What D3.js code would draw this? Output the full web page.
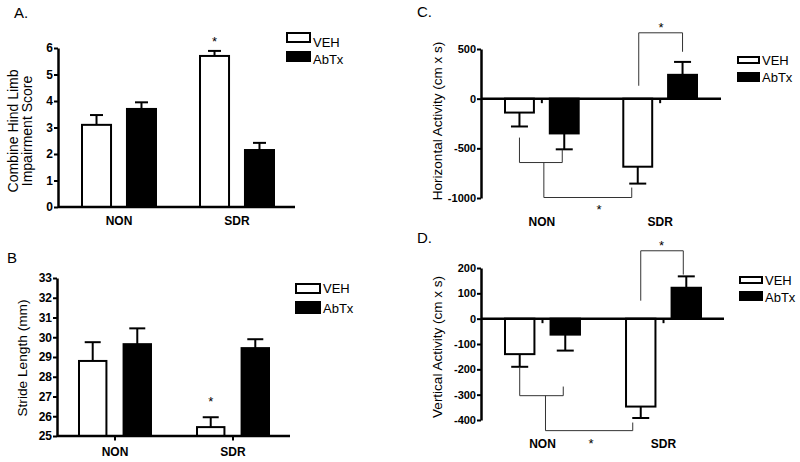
<!DOCTYPE html>
<html><head><meta charset="utf-8">
<script src="https://cdn.jsdelivr.net/npm/d3@7"></script>
<style>
body{margin:0;background:#fff}
text{font-family:"Liberation Sans",Arial,Helvetica,sans-serif;fill:#000}
</style>
</head><body>
<svg id="c" width="800" height="462"></svg>
<script>
// ---------------- data ----------------
const categories = ["NON", "SDR"];
const series = ["VEH", "AbTx"];

// A. Combine Hind Limb Impairment Score
const impairVEH = [3.1, 5.7];
const impairVEHErr = [0.37, 0.19];
const impairAbTx = [3.7, 2.15];
const impairAbTxErr = [0.25, 0.27];
const ticksA = [0, 1, 2, 3, 4, 5, 6];

// B. Stride Length (mm)
const strideVEH = [28.8, 25.45];
const strideVEHErr = [0.95, 0.5];
const strideAbTx = [29.65, 29.45];
const strideAbTxErr = [0.8, 0.45];
const ticksB = [25, 26, 27, 28, 29, 30, 31, 32, 33];

// C. Horizontal Activity (cm x s)
const horizVEH = [-140, -685];
const horizVEHErr = [140, 170];
const horizAbTx = [-350, 240];
const horizAbTxErr = [160, 130];
const ticksC = [-1000, -500, 0, 500];

// D. Vertical Activity (cm x s)
const vertVEH = [-140, -347];
const vertVEHErr = [50, 45];
const vertAbTx = [-63, 122];
const vertAbTxErr = [63, 45];
const ticksD = [-400, -300, -200, -100, 0, 100, 200];

// ---------------- drawing ----------------
const svg = d3.select("#c");
const FILL = {VEH: "#fff", AbTx: "#000"};

function panel(cfg) {
  const g = svg.append("g");
  const y = d3.scaleLinear().domain(cfg.domain).range(cfg.yRange);
  const x0 = d3.scaleBand().domain(categories).range(cfg.band).paddingInner(cfg.padOuterBand).paddingOuter(0);
  const x1 = d3.scaleBand().domain(series).range([0, x0.bandwidth()]).paddingInner(cfg.padInner).paddingOuter(0);
  const base = cfg.base;
  const cx = (c, s) => x0(c) + x1(s) + x1.bandwidth() / 2;

  const rows = [];
  categories.forEach((c, i) => series.forEach((s, j) => {
    rows.push({c, s, v: cfg.vals[j][i], e: cfg.errs[j][i]});
  }));

  // bars
  g.selectAll("rect.bar").data(rows).join("rect")
    .attr("x", d => x0(d.c) + x1(d.s) + 1)
    .attr("width", x1.bandwidth() - 2)
    .attr("y", d => Math.min(y(d.v), y(base)))
    .attr("height", d => Math.abs(y(d.v) - y(base)))
    .attr("fill", d => FILL[d.s])
    .attr("stroke", "#000").attr("stroke-width", 2);

  // error bars
  rows.forEach(d => {
    const sgn = d.v >= base ? 1 : -1;
    const xc = cx(d.c, d.s);
    const ye = y(d.v + sgn * d.e);
    g.append("line").attr("x1", xc).attr("x2", xc).attr("y1", y(d.v)).attr("y2", ye)
      .attr("stroke", "#000").attr("stroke-width", 2);
    g.append("line").attr("x1", xc - cfg.cap / 2).attr("x2", xc + cfg.cap / 2).attr("y1", ye).attr("y2", ye)
      .attr("stroke", "#000").attr("stroke-width", 2);
  });

  // y axis
  const ax = g.append("g").attr("transform", `translate(${cfg.axisX},0)`)
    .call(d3.axisLeft(y).tickValues(cfg.ticks).tickFormat(d => String(d))
      .tickSize(4).tickSizeOuter(0).tickPadding(1));
  ax.select(".domain").attr("stroke-width", 2.5);
  ax.selectAll(".tick line").attr("stroke-width", 2);
  ax.selectAll(".tick text").style("font-size", cfg.tickFont + "px").style("font-weight", "bold")
    .style("font-family", '"Liberation Sans",Arial,sans-serif');

  // x axis line at base
  g.append("line").attr("x1", cfg.axisX).attr("x2", cfg.xEnd)
    .attr("y1", y(base)).attr("y2", y(base)).attr("stroke", "#000").attr("stroke-width", 2.5);
  if (cfg.xTicks) {
    categories.forEach(c => {
      const xc = x0(c) + x0.bandwidth() / 2;
      g.append("line").attr("x1", xc).attr("x2", xc).attr("y1", y(base)).attr("y2", y(base) + 4.5)
        .attr("stroke", "#000").attr("stroke-width", 2);
    });
  }
  // category labels
  categories.forEach(c => {
    g.append("text").attr("x", x0(c) + x0.bandwidth() / 2 + (cfg.catDx || 0)).attr("y", cfg.catY)
      .attr("text-anchor", "middle").style("font-size", "12px").style("font-weight", "bold").text(c);
  });

  // y label
  cfg.yLabel.forEach((t, i) => {
    g.append("text").attr("transform", `translate(${cfg.ylx[i]},${cfg.yly}) rotate(-90)`)
      .attr("text-anchor", "middle").style("font-size", cfg.ylFont + "px").text(t);
  });

  // title
  g.append("text").attr("x", cfg.tx).attr("y", cfg.ty).style("font-size", "15px").text(cfg.title);

  // legend
  series.forEach((s, j) => {
    const L = cfg.legend;
    const by = L.y[j];
    g.append("rect").attr("x", L.x + 1).attr("y", by + 1).attr("width", L.w - 2).attr("height", L.h[j] - 2)
      .attr("fill", FILL[s]).attr("stroke", "#000").attr("stroke-width", 2);
    g.append("text").attr("x", L.x + L.w + 2).attr("y", L.ty[j]).style("font-size", "13px").text(s);
  });

  return {g, y, x0, x1, cx};
}

function star(g, x, yy) {
  g.append("text").attr("x", x).attr("y", yy).attr("text-anchor", "middle")
    .style("font-size", "13px").text("*");
}
function bracket(g, pts) {
  g.append("path").attr("d", d3.line()(pts)).attr("fill", "none")
    .attr("stroke", "#333").attr("stroke-width", 1);
}

// Panel A
const pA = panel({
  title: "A.", tx: 14, ty: 18,
  domain: [0, 6], yRange: [207, 48], ticks: ticksA, base: 0,
  band: [81, 275], padOuterBand: 0.356, padInner: 0.31,
  vals: [impairVEH, impairAbTx], errs: [impairVEHErr, impairAbTxErr], cap: 13,
  axisX: 58, xEnd: 295, xTicks: false, catY: 225, tickFont: 12,
  yLabel: ["Combine Hind Limb", "Impairment Score"], ylx: [18, 32], yly: 131, ylFont: 14,
  legend: {x: 286, w: 25, y: [32, 51], h: [11, 11], ty: [47, 64]}
});
star(pA.g, pA.cx("SDR", "VEH"), pA.y(5.7 + 0.19) - 5);

// Panel B
const pB = panel({
  title: "B", tx: 7, ty: 263,
  domain: [25, 33], yRange: [436, 278], ticks: ticksB, base: 25,
  band: [78, 270], padOuterBand: 0.373, padInner: 0.34,
  vals: [strideVEH, strideAbTx], errs: [strideVEHErr, strideAbTxErr], cap: 16,
  axisX: 57, xEnd: 290, xTicks: true, catY: 456, tickFont: 12,
  yLabel: ["Stride Length (mm)"], ylx: [27], yly: 358, ylFont: 13.7,
  legend: {x: 295, w: 26, y: [283, 301], h: [11, 13], ty: [293, 313]}
});
star(pB.g, pB.cx("SDR", "VEH"), pB.y(25.45 + 0.5) - 11);

// Panel C
const pC = panel({
  title: "C.", tx: 417, ty: 17,
  domain: [-1000, 500], yRange: [198, 49], ticks: ticksC, base: 0,
  band: [504, 698], padOuterBand: 0.36, padInner: 0.31,
  vals: [horizVEH, horizAbTx], errs: [horizVEHErr, horizAbTxErr], cap: 17,
  axisX: 481, xEnd: 721, xTicks: true, catY: 226, tickFont: 11,
  yLabel: ["Horizontal Activity (cm x s)"], ylx: [442], yly: 121, ylFont: 13.5,
  legend: {x: 737, w: 23, y: [56, 72], h: [8, 10], ty: [65, 82]}
});
{
  const {g, y, cx} = pC;
  const xv = cx("SDR", "VEH"), xa = cx("SDR", "AbTx");
  bracket(g, [[xv + 1, y(130)], [xv + 1, y(663)], [xa, y(663)], [xa, y(472)]]);
  star(g, (xv + xa) / 2 + 1, y(663) - 1);
  const nv = cx("NON", "VEH"), na = cx("NON", "AbTx");
  bracket(g, [[nv, y(-392)], [nv, y(-643)], [na - 2, y(-643)], [na - 2, y(-513)]]);
  const mid = (nv + na) / 2 + 2;
  bracket(g, [[mid, y(-643)], [mid, y(-995)], [xv - 6, y(-995)], [xv - 6, y(-895)]]);
  star(g, 599, y(-995) + 16);
}

// Panel D
const pD = panel({
  title: "D.", tx: 417, ty: 243,
  domain: [-400, 200], yRange: [420, 268], ticks: ticksD, base: 0,
  band: [504, 702], padOuterBand: 0.364, padInner: 0.31,
  vals: [vertVEH, vertAbTx], errs: [vertVEHErr, vertAbTxErr], cap: 17,
  axisX: 481, xEnd: 724, xTicks: true, catY: 448, tickFont: 11,
  yLabel: ["Vertical Activity (cm x s)"], ylx: [442], yly: 347, ylFont: 13.5,
  legend: {x: 739, w: 24, y: [276, 291], h: [8, 10], ty: [285, 302]}
});
{
  const {g, y, cx} = pD;
  const xv = cx("SDR", "VEH"), xa = cx("SDR", "AbTx");
  bracket(g, [[xv, y(71)], [xv, y(268)], [xa - 3, y(268)], [xa - 3, y(174)]]);
  star(g, (xv + xa) / 2 - 2, y(268) - 1);
  const nv = cx("NON", "VEH"), na = cx("NON", "AbTx");
  bracket(g, [[nv, y(-193)], [nv, y(-304)], [na - 2, y(-304)], [na - 2, y(-268)]]);
  const mid = (nv + na) / 2 + 3;
  bracket(g, [[mid, y(-304)], [mid, y(-442)], [xv - 8, y(-442)], [xv - 8, y(-410)]]);
  star(g, 591, y(-442) + 17);
}
</script>
</body></html>
